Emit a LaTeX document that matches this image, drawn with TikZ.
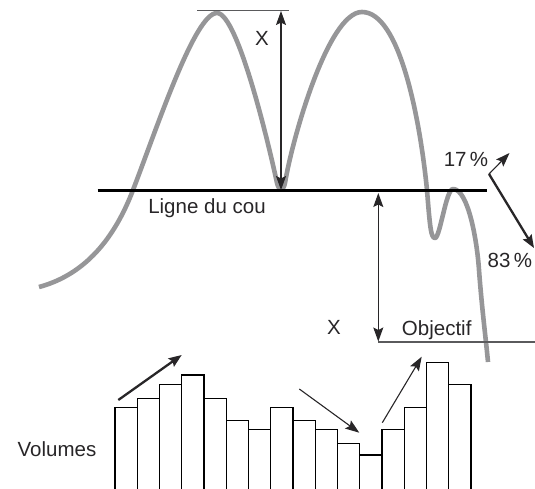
\documentclass[tikz,border=0pt]{standalone}
\usepackage{fontspec}
\setmainfont{Liberation Sans}
\usetikzlibrary{arrows.meta}
\definecolor{curvegray}{RGB}{150,150,152}
\definecolor{txt}{RGB}{40,38,40}
\definecolor{linegray}{RGB}{90,90,92}
\begin{document}
\begin{tikzpicture}[x=1pt,y=-1pt,
  lbl/.style={font=\fontsize{20.5}{24}\selectfont, text=txt, inner sep=0pt},
  price/.style={curvegray, line width=4.6pt, line join=round},
  neck/.style={black, line width=2.4pt},
  guide/.style={linegray, line width=1.1pt},
  dimarrow/.style={txt, line width=1.1pt, {Stealth[length=14pt,width=10pt,inset=2.5pt]}-{Stealth[length=14pt,width=10pt,inset=2.5pt]}},
  thinarrow/.style={txt, line width=1.1pt, -{Stealth[length=14pt,width=10pt,inset=2.5pt]}},
  thickarrow/.style={txt, line width=2.3pt, -{Stealth[length=13pt,width=10pt,inset=2pt]}},
  bar/.style={draw=black, fill=white, line width=1.2pt}
]
\useasboundingbox (0,0) rectangle (535,488);
\clip (0,0) rectangle (535,488);

% price curve
\draw[price] (39,287) .. controls (80,276) and (112,245) .. (133,190)
  .. controls (158,125) and (195,13) .. (217,13)
  .. controls (238,13) and (270,150) .. (277,183)
  .. controls (279,191) and (283,192) .. (285,183)
  .. controls (292,140) and (328,12) .. (362,12)
  .. controls (400,12) and (420,120) .. (427,190)
  .. controls (430,228) and (431,238) .. (435,238)
  .. controls (440,238) and (446,189) .. (453,189)
  .. controls (468,189) and (477,240) .. (479,270)
  .. controls (482,310) and (486,340) .. (488,362);

% named points
\coordinate (topL) at (197,10.7);
\coordinate (topR) at (289,10.7);
\coordinate (xTop) at (281,11);
\coordinate (xBot) at (281,190);
\coordinate (neckL) at (97.5,190.5);
\coordinate (neckR) at (487,190.5);
\coordinate (oTop) at (378.3,193);
\coordinate (oBot) at (378.3,341.5);
\coordinate (objL) at (378.3,342);
\coordinate (objR) at (535,342);
\coordinate (split) at (489,174);
\coordinate (up17) at (509.5,153);
\coordinate (dn83) at (534,248);
\coordinate (v1s) at (118.3,400);
\coordinate (v1e) at (181.7,355);
\coordinate (v2s) at (299.3,389);
\coordinate (v2e) at (359.3,432.7);
\coordinate (v3s) at (382.3,422.7);
\coordinate (v3e) at (421.7,356.7);

% guide lines
\draw[guide] (topL) -- (topR);
\draw[neck] (neckL) -- (neckR);
\draw[guide] (objL) -- (objR);

% dimension arrows
\draw[dimarrow] (xTop) -- (xBot);
\draw[dimarrow] (oTop) -- (oBot);

% 17 / 83 arrows
\draw[thinarrow] (split) -- (up17);
\draw[thickarrow] (split) -- (dn83);

% volume bars
\foreach \t [count=\i from 0] in {407.3,398.3,384.3,375,398.3,420.7,429.3,407.7,420.7,429.3,443.3,455,429.3,407.7,362.7,384.3}{
  \draw[bar] ({115+22.25*\i},\t) rectangle ({115+22.25*(\i+1)},495);
}

% volume arrows
\draw[thickarrow] (v1s) -- (v1e);
\draw[thinarrow] (v2s) -- (v2e);
\draw[thinarrow] (v3s) -- (v3e);

% labels
\node[lbl, anchor=base] (lx1) at (262,45) {X};
\node[lbl, anchor=base] (lneck) at (207,213) {Ligne du cou};
\node[lbl, anchor=base] (l17) at (466,166.7) {17\,\%};
\node[lbl, anchor=base west] (l83) at (487.5,267.3) {83\,\%};
\node[lbl, anchor=base] (lx2) at (334,334) {X};
\node[lbl, anchor=base] (lobj) at (436.7,335) {Objectif};
\node[lbl, anchor=base] (lvol) at (57,456) {Volumes};
\end{tikzpicture}
\end{document}
